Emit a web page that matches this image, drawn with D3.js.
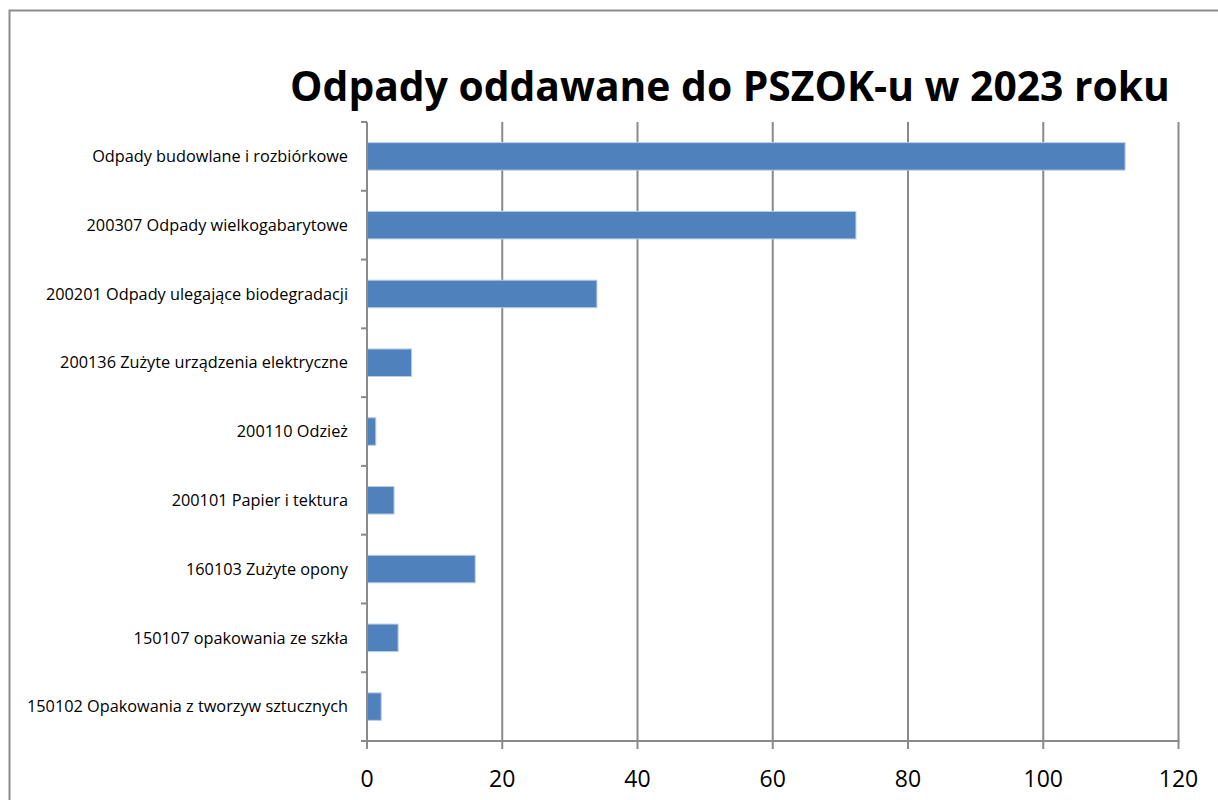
<!DOCTYPE html>
<html>
<head>
<meta charset="utf-8">
<script src="https://cdn.jsdelivr.net/npm/d3@7"></script>
<style>
  body { margin: 0; background: #fff; }
  svg { font-family: "Open Sans", "Liberation Sans", sans-serif; }
</style>
</head>
<body>
<svg id="main" width="1218" height="800"></svg>
<script>
    const categories = [
        "Odpady budowlane i rozbiórkowe",
        "200307 Odpady wielkogabarytowe",
        "200201 Odpady ulegające biodegradacji",
        "200136 Zużyte urządzenia elektryczne",
        "200110 Odzież",
        "200101 Papier i tektura",
        "160103 Zużyte opony",
        "150107 opakowania ze szkła",
        "150102 Opakowania z tworzyw sztucznych"
    ];
    const values = [112.1, 72.3, 34.0, 6.6, 1.3, 4.0, 16.0, 4.6, 2.1];
    const xTicks = [0, 20, 40, 60, 80, 100, 120];
    const title = "Odpady oddawane do PSZOK-u w 2023 roku";

    const svg = d3.select('svg#main');
    const pLeft = 367, pRight = 1178.5, pTop = 122, pBottom = 741;

    // outer frame
    svg.append("rect")
        .attr("x", 9.5).attr("y", 10.5)
        .attr("width", 1240).attr("height", 820)
        .attr("fill", "none")
        .style("stroke", "#8c8c8c")
        .style("stroke-width", "2px");

    const x = d3.scaleLinear().domain([0, 120]).range([pLeft, pRight]);
    const y = d3.scaleBand().domain(categories).range([pTop, pBottom]).paddingInner(0.6).paddingOuter(0.3);
    const yb = d3.scaleBand().domain(categories).range([pTop, pBottom]);

    // vertical gridlines + bottom ticks
    svg.append("g")
        .selectAll("line")
        .data(xTicks.slice(1))
        .enter()
        .append("line")
        .attr("x1", d => x(d)).attr("x2", d => x(d))
        .attr("y1", pTop).attr("y2", pBottom + 8)
        .style("stroke", "#8a8a8a")
        .style("stroke-width", "2px");

    // bars
    svg.append("g")
        .selectAll("rect")
        .data(categories)
        .enter()
        .append("rect")
        .attr("x", x(0))
        .attr("y", d => y(d))
        .attr("width", (d, i) => x(values[i]) - x(0))
        .attr("height", y.bandwidth())
        .attr("fill", "#4f81bd")
        .style("stroke", "#b9cde5")
        .style("stroke-width", "1px");

    // axes
    const ax = svg.append("g").style("stroke", "#8a8a8a").style("stroke-width", "2px");
    ax.append("line").attr("x1", pLeft).attr("x2", pLeft).attr("y1", pTop).attr("y2", pBottom + 8);
    ax.append("line").attr("x1", pLeft - 6).attr("x2", pRight + 1).attr("y1", pBottom).attr("y2", pBottom);
    ax.selectAll(".ct")
        .data(d3.range(categories.length + 1))
        .enter()
        .append("line")
        .attr("x1", pLeft - 6).attr("x2", pLeft)
        .attr("y1", i => pTop + i * yb.step()).attr("y2", i => pTop + i * yb.step());

    // x tick labels
    svg.append("g")
        .selectAll("text")
        .data(xTicks)
        .enter()
        .append("text")
        .attr("x", d => x(d))
        .attr("y", 787)
        .attr("text-anchor", "middle")
        .style("font-size", "23px")
        .text(d => d);

    // category labels
    svg.append("g")
        .selectAll("text")
        .data(categories)
        .enter()
        .append("text")
        .attr("x", 348)
        .attr("y", d => yb(d) + yb.bandwidth() / 2)
        .attr("dy", "0.35em")
        .attr("text-anchor", "end")
        .style("font-size", "16.3px")
        .text(d => d);

    // title
    svg.append("text")
        .attr("x", 730)
        .attr("y", 101)
        .attr("text-anchor", "middle")
        .style("font-size", "40.8px")
        .style("font-weight", "bold")
        .text(title);
</script>
</body>
</html>
